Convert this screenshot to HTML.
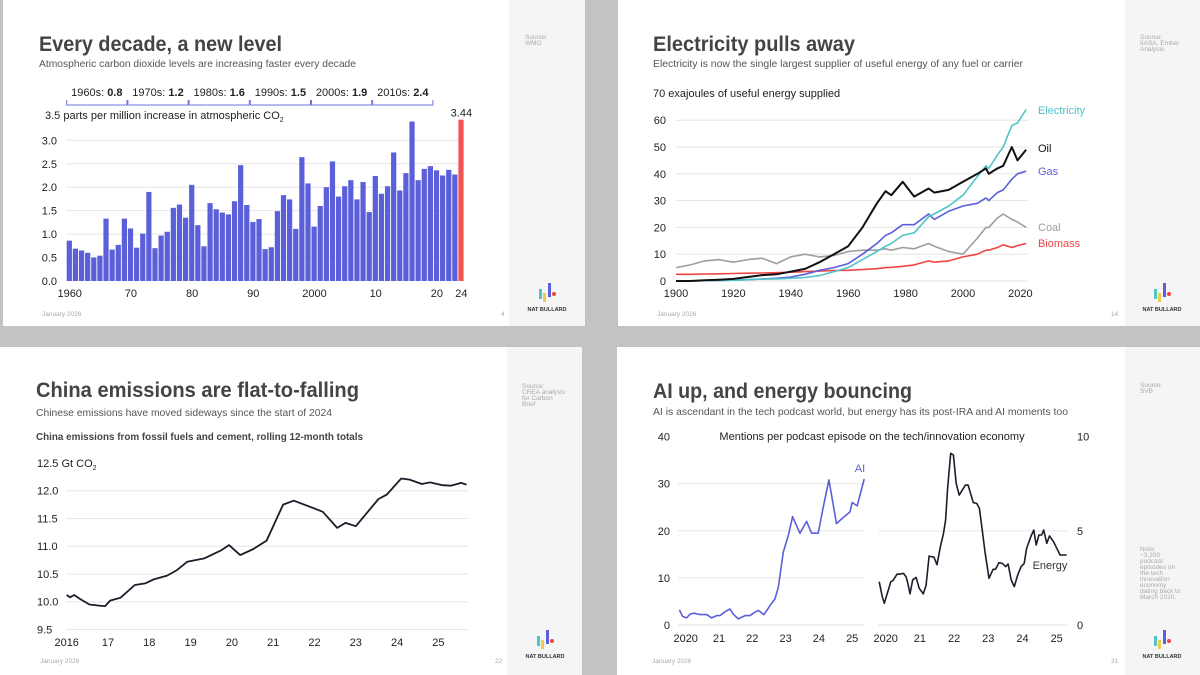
<!DOCTYPE html>
<html><head><meta charset="utf-8"><style>
html,body{margin:0;padding:0;background:#c3c3c3;}
svg{display:block;font-family:"Liberation Sans",sans-serif;}
.t{font-weight:bold;fill:#444;font-size:21px;}
.s{fill:#555;font-size:10.5px;}
.ax{fill:#222;font-size:11px;}
.tiny{fill:#aaa;font-size:6.5px;}
.grid{stroke:#e6e6e6;stroke-width:1;}
</style></head><body>
<svg id="root" width="1200" height="675" viewBox="0 0 1200 675">
<rect x="0" y="0" width="1200" height="675" fill="#c3c3c3"/>
<rect x="3" y="0" width="582" height="326" fill="#fff"/>
<rect x="509" y="0" width="76" height="326" fill="#f5f5f5"/>
<rect x="618" y="0" width="582" height="326" fill="#fff"/>
<rect x="1125" y="0" width="75" height="326" fill="#f5f5f5"/>
<rect x="0" y="347" width="582" height="328" fill="#fff"/>
<rect x="507" y="347" width="75" height="328" fill="#f5f5f5"/>
<rect x="617" y="347" width="583" height="328" fill="#fff"/>
<rect x="1125" y="347" width="75" height="328" fill="#f5f5f5"/>

<text x="39" y="51" class="t" textLength="243" lengthAdjust="spacingAndGlyphs">Every decade, a new level</text>
<text x="39" y="67" class="s" textLength="317" lengthAdjust="spacingAndGlyphs">Atmospheric carbon dioxide levels are increasing faster every decade</text>
<text x="653" y="51" class="t" textLength="202" lengthAdjust="spacingAndGlyphs">Electricity pulls away</text>
<text x="653" y="67" class="s" textLength="370" lengthAdjust="spacingAndGlyphs">Electricity is now the single largest supplier of useful energy of any fuel or carrier</text>
<text x="36" y="397" class="t" textLength="323" lengthAdjust="spacingAndGlyphs">China emissions are flat-to-falling</text>
<text x="36" y="416" class="s" textLength="296" lengthAdjust="spacingAndGlyphs">Chinese emissions have moved sideways since the start of 2024</text>
<text x="36" y="440" style="font-weight:bold;fill:#444;font-size:10.5px" textLength="327" lengthAdjust="spacingAndGlyphs">China emissions from fossil fuels and cement, rolling 12-month totals</text>
<text x="653" y="398" class="t" textLength="259" lengthAdjust="spacingAndGlyphs">AI up, and energy bouncing</text>
<text x="653" y="415" class="s" textLength="415" lengthAdjust="spacingAndGlyphs">AI is ascendant in the tech podcast world, but energy has its post-IRA and AI moments too</text>

<text class="tiny"><tspan x="525" y="39">Source:</tspan><tspan x="525" y="45">WMO</tspan></text>
<text class="tiny"><tspan x="1140" y="39">Source:</tspan><tspan x="1140" y="45">IIASA, Ember</tspan><tspan x="1140" y="51">Analysis</tspan></text>
<text class="tiny"><tspan x="522" y="388">Source:</tspan><tspan x="522" y="394">CREA analysis</tspan><tspan x="522" y="400">for Carbon</tspan><tspan x="522" y="406">Brief</tspan></text>
<text class="tiny"><tspan x="1140" y="387">Source:</tspan><tspan x="1140" y="393">SVB</tspan></text>
<text class="tiny"><tspan x="1140" y="551">Note:</tspan><tspan x="1140" y="557">~3,200</tspan><tspan x="1140" y="563">podcast</tspan><tspan x="1140" y="569">episodes on</tspan><tspan x="1140" y="575">the tech</tspan><tspan x="1140" y="581">innovation</tspan><tspan x="1140" y="587">economy</tspan><tspan x="1140" y="593">dating back to</tspan><tspan x="1140" y="599">March 2020.</tspan></text>

<text x="42" y="316" class="tiny">January 2026</text>
<text x="501" y="316" class="tiny">4</text>
<text x="657" y="316" class="tiny">January 2026</text>
<text x="1111" y="316" class="tiny">14</text>
<text x="40" y="663" class="tiny">January 2026</text>
<text x="495" y="663" class="tiny">22</text>
<text x="652" y="663" class="tiny">January 2026</text>
<text x="1111" y="663" class="tiny">31</text>

<g id="logos"></g>
<g id="c1"></g><g id="c2"></g><g id="c3"></g><g id="c4"></g>
</svg>
<script>
// ===== Chart 1: CO2 annual increase =====
const co2Years = [];
for (let y = 1960; y <= 2024; y++) co2Years.push(y);
const co2Values = [0.86,0.69,0.65,0.60,0.50,0.54,1.33,0.67,0.77,1.33,
1.12,0.71,1.01,1.90,0.70,0.97,1.05,1.56,1.63,1.35,
2.05,1.19,0.74,1.66,1.53,1.46,1.42,1.70,2.47,1.62,
1.26,1.32,0.68,0.72,1.49,1.83,1.74,1.11,2.64,2.08,
1.16,1.60,2.00,2.55,1.80,2.02,2.15,1.74,2.11,1.47,
2.24,1.86,2.02,2.74,1.93,2.30,3.40,2.15,2.39,2.45,
2.36,2.25,2.37,2.27,3.44];
const co2YTicks = [0,0.5,1.0,1.5,2.0,2.5,3.0];
const co2XTickYears = [1960,1970,1980,1990,2000,2010,2020,2024];
const co2XTickLabels = ["1960","70","80","90","2000","10","20","24"];
const decadeLabels = ["1960s: ","1970s: ","1980s: ","1990s: ","2000s: ","2010s: "];
const decadeValues = ["0.8","1.2","1.6","1.5","1.9","2.4"];

// ===== Chart 2: useful energy by carrier =====
const enYears = [1900,1905,1910,1915,1920,1925,1930,1935,1940,1945,1950,1955,1960,1965,1970,1973,1975,1979,1983,1988,1990,1995,2000,2005,2008,2009,2012,2014,2017,2019,2022];
const enElectricity = [0,0,0.1,0.2,0.3,0.5,0.7,0.8,1,1.3,2,3.5,5,8,11,13,14,17,18,24,25,28,32,39,43,42,47,50,58,59,64];
const enOil = [0,0,0.3,0.5,0.8,1.5,2.2,2.5,3.5,4.5,7,10,13,20,29,33.5,32,37,31.5,34.5,33,34,37,40,42,40,42,43,50,45,49];
const enGas = [0,0,0.1,0.2,0.3,0.5,0.7,1,1.5,2.5,4,5,6.5,10,14,17,18,21,21,25,23,26,28,29,31,30,33,34,38,40,41];
const enCoal = [5,6,7.5,8,7,8,8.5,6.5,9,10,9,9.5,11,11.5,11.5,12,11.5,12.5,12,14,13,11,10,16,20,20,23.5,25,23,22,20];
const enBiomass = [2.5,2.5,2.6,2.7,2.8,2.9,3,3.1,3.3,3.5,3.7,3.9,4,4.3,4.6,5,5.1,5.5,6,7.5,7,7.5,9,10,11.5,11.5,12.5,13.5,12.5,13.2,14];
const enYTicks = [0,10,20,30,40,50,60];
const enXTicks = [1900,1920,1940,1960,1980,2000,2020];

// ===== Chart 3: China emissions =====
const cnYears = [2016,2016.08,2016.18,2016.32,2016.55,2016.78,2016.93,2017.05,2017.3,2017.65,2017.9,2018.1,2018.43,2018.67,2018.92,2019.33,2019.73,2019.93,2020.2,2020.52,2020.84,2021.24,2021.5,2022.0,2022.2,2022.55,2022.75,2023.0,2023.55,2023.75,2024.1,2024.3,2024.6,2024.8,2025.1,2025.3,2025.55,2025.68];
const cnValues = [10.12,10.08,10.12,10.05,9.95,9.93,9.92,10.02,10.07,10.30,10.33,10.40,10.47,10.57,10.72,10.78,10.92,11.02,10.84,10.95,11.10,11.75,11.82,11.68,11.62,11.33,11.42,11.36,11.85,11.93,12.22,12.20,12.12,12.15,12.10,12.09,12.14,12.11];
const cnYTicks = [9.5,10.0,10.5,11.0,11.5,12.0];
const cnXTicks = [2016,2017,2018,2019,2020,2021,2022,2023,2024,2025];
const cnXLabels = ["2016","17","18","19","20","21","22","23","24","25"];

// ===== Chart 4: AI and energy mentions =====
const aiYears = [2019.81,2019.91,2020.03,2020.13,2020.25,2020.43,2020.63,2020.78,2020.93,2021.03,2021.18,2021.33,2021.43,2021.58,2021.78,2021.93,2022.03,2022.18,2022.35,2022.55,2022.68,2022.78,2022.93,2023.08,2023.21,2023.43,2023.63,2023.78,2023.98,2024.13,2024.30,2024.53,2024.68,2024.93,2025.0,2025.15,2025.36];
const aiValues = [3.2,1.8,1.5,2.3,2.5,2.2,2.2,1.5,2.0,2.0,2.8,3.4,2.3,1.3,2.0,2.0,2.5,3.1,2.2,4.3,5.5,8,15.5,19,23,19.5,22,19.5,19.5,25,30.8,21.5,22.5,24,26,25.3,31];
const energyYears = [2019.81,2019.90,2019.96,2020.06,2020.15,2020.21,2020.33,2020.40,2020.52,2020.60,2020.65,2020.71,2020.79,2020.89,2020.98,2021.10,2021.18,2021.27,2021.41,2021.50,2021.60,2021.69,2021.75,2021.81,2021.90,2021.98,2022.06,2022.15,2022.21,2022.33,2022.41,2022.48,2022.56,2022.66,2022.74,2022.81,2022.91,2023.02,2023.14,2023.21,2023.31,2023.41,2023.51,2023.58,2023.67,2023.76,2023.86,2023.96,2024.05,2024.12,2024.25,2024.33,2024.40,2024.48,2024.56,2024.62,2024.71,2024.79,2024.91,2024.98,2025.10,2025.18,2025.29];
const energyValues = [2.3,1.5,1.15,1.77,2.3,2.35,2.7,2.7,2.74,2.55,2.2,1.65,2.4,2.53,1.95,1.65,2.12,3.66,3.6,3.2,4.16,4.87,5.57,7.26,9.12,9.03,7.52,6.9,7.08,7.43,7.43,7.0,6.5,6.46,6.19,5.22,3.8,2.48,2.96,2.96,3.31,3.27,3.1,3.24,2.39,2.04,2.65,3.1,3.27,4.07,4.73,5.04,4.25,4.78,4.78,5.04,4.34,4.73,4.42,4.16,3.72,3.72,3.72];
const aiYTicks = [0,10,20,30,40];
const energyYTicks = [0,5,10];
const podXTicks = [2020,2021,2022,2023,2024,2025];
const podXLabels = ["2020","21","22","23","24","25"];

const NS = "http://www.w3.org/2000/svg";
function mk(parent, tag, attrs, txt) {
  const e = document.createElementNS(NS, tag);
  for (const k in attrs) e.setAttribute(k, attrs[k]);
  if (txt !== undefined) e.textContent = txt;
  parent.appendChild(e);
  return e;
}
function pathFrom(xs, ys, fx, fy) {
  return xs.map((x, i) => (i ? "L" : "M") + fx(x).toFixed(1) + "," + fy(ys[i]).toFixed(1)).join("");
}

const logos = document.getElementById("logos");
[[547,311],[1162,311],[545,658],[1162,658]].forEach(function(p){
  const g = mk(logos, "g", {});
  
  
  const cx = p[0], by = p[1];
  mk(g, "rect", {x: cx-8, y: by-22, width: 3, height: 10, fill: "#4fc4c9"});
  mk(g, "rect", {x: cx-4, y: by-18, width: 3, height: 9, fill: "#f2c94c"});
  mk(g, "rect", {x: cx+1, y: by-28, width: 3, height: 14, fill: "#5b5fd9"});
  mk(g, "circle", {cx: cx+7, cy: by-17, r: 2, fill: "#ee4444"});
  const t = mk(g, "text", {x: cx, y: by, "text-anchor": "middle", "font-size": "5.5", "font-weight": "bold", fill: "#333"}, "NAT BULLARD");
  
  
});

(function(){
  const g = document.getElementById("c1");
  
  
  const x0 = 66.7, pitch = 6.12;
  const xi = i => x0 + i * pitch;
  const y = v => 281 - v * 46.9;
  co2YTicks.forEach(function(t){
    if (t > 0) {
      const l = mk(g, "line", {x1: 66, x2: 465, y1: y(t), y2: y(t), class: "grid"});
      
      
    }
    const tx = mk(g, "text", {x: 57, y: y(t) + 4, "text-anchor": "end", class: "ax"}, t.toFixed(1));
    
    
  });
  const yt = mk(g, "text", {x: 45, y: 119, class: "ax"});
  
  
  yt.innerHTML = '3.5 parts per million increase in atmospheric CO<tspan font-size="7" dy="3">2</tspan>';
  co2Values.forEach(function(v, i){
    const last = i === co2Values.length - 1;
    const r = mk(g, "rect", {x: xi(i), y: y(v), width: pitch - 0.9, height: y(0) - y(v), fill: last ? "#f25454" : "#5b5fd9"});
    
    
  });
  const lv = mk(g, "text", {x: xi(co2Values.length - 1) + 3, y: y(co2Values[co2Values.length-1]) - 3, "text-anchor": "middle", class: "ax"}, co2Values[co2Values.length-1].toFixed(2));
  
  
  co2XTickYears.forEach(function(yr, k){
    const i = yr - 1960;
    const tx = mk(g, "text", {x: xi(i) + 3, y: 297, "text-anchor": "middle", class: "ax"}, co2XTickLabels[k]);
    
    
  });
  decadeLabels.forEach(function(lab, k){
    const a = xi(k * 10), b = xi(k * 10 + 10) - 1;
    const p = mk(g, "path", {d: "M" + a + ",100V105H" + b + "V100", fill: "none", stroke: "#6f72dd", "stroke-width": 1});
    
    
    const t = mk(g, "text", {x: (a + b) / 2, y: 96, "text-anchor": "middle", class: "ax", "font-size": "10.5"});
    
    
    t.innerHTML = lab + '<tspan font-weight="bold">' + decadeValues[k] + '</tspan>';
  });
})();

(function(){
  const g = document.getElementById("c2");
  
  
  const x = yr => 676 + (yr - 1900) * 2.87;
  const y = v => 281 - v * 2.68;
  enYTicks.forEach(function(t){
    const l = mk(g, "line", {x1: 676, x2: 1028, y1: y(t), y2: y(t), class: "grid"});
    
    
    const tx = mk(g, "text", {x: 666, y: y(t) + 4, "text-anchor": "end", class: "ax"}, String(t));
    
    
  });
  const yt = mk(g, "text", {x: 653, y: 97, class: "ax", "font-size": "10.5"}, "70 exajoules of useful energy supplied");
  
  
  enXTicks.forEach(function(t){
    const tx = mk(g, "text", {x: x(t), y: 297, "text-anchor": "middle", class: "ax"}, String(t));
    
    
  });
  const series = [
    ["coal", enCoal, "#9e9e9e", "Coal", 231],
    ["biomass", enBiomass, "#ee4444", "Biomass", 247],
    ["gas", enGas, "#5b5fd9", "Gas", 175],
    ["electricity", enElectricity, "#4fc4c9", "Electricity", 114],
    ["oil", enOil, "#111111", "Oil", 152]
  ];
  series.forEach(function(s){
    const p = mk(g, "path", {d: pathFrom(enYears, s[1], x, y), fill: "none", stroke: s[2], "stroke-width": s[0] === "oil" ? 2 : 1.6, "stroke-linejoin": "round"});
    
    
    const t = mk(g, "text", {x: 1038, y: s[4], fill: s[2], "font-size": "11"}, s[3]);
    
    
  });
})();

(function(){
  const g = document.getElementById("c3");
  
  
  const x = yr => 66.7 + (yr - 2016) * 41.3;
  const y = v => 490.7 - (v - 12) * 55.5;
  cnYTicks.forEach(function(t){
    const l = mk(g, "line", {x1: 66, x2: 468, y1: y(t), y2: y(t), class: "grid"});
    
    
    const tx = mk(g, "text", {x: 37, y: y(t) + 4, class: "ax"}, t.toFixed(1));
    
    
  });
  const yt = mk(g, "text", {x: 37, y: 467, class: "ax"});
  
  
  yt.innerHTML = '12.5 Gt CO<tspan font-size="7" dy="3">2</tspan>';
  cnXTicks.forEach(function(t, k){
    const tx = mk(g, "text", {x: x(t), y: 646, "text-anchor": "middle", class: "ax"}, cnXLabels[k]);
    
    
  });
  const p = mk(g, "path", {d: pathFrom(cnYears, cnValues, x, y), fill: "none", stroke: "#1c1c2a", "stroke-width": 1.8, "stroke-linejoin": "round"});
  
  
})();

(function(){
  const g = document.getElementById("c4");
  
  
  const xL = yr => 685.7 + (yr - 2020) * 33.3;
  const yL = v => 625 - v * 4.71;
  const xR = yr => 885.7 + (yr - 2020) * 34.2;
  const yR = v => 625 - v * 18.83;
  aiYTicks.forEach(function(t){
    if (t < 40) {
      const l = mk(g, "line", {x1: 678, x2: 865, y1: yL(t), y2: yL(t), class: "grid"});
      
      
    }
    const tx = mk(g, "text", {x: 670, y: yL(t) + 4, "text-anchor": "end", class: "ax"}, String(t));
    
    
  });
  energyYTicks.forEach(function(t){
    if (t < 10) {
      const l = mk(g, "line", {x1: 878, x2: 1067, y1: yR(t), y2: yR(t), class: "grid"});
      
      
    }
    const tx = mk(g, "text", {x: 1077, y: yR(t) + 4, class: "ax"}, String(t));
    
    
  });
  podXTicks.forEach(function(t, k){
    const a = mk(g, "text", {x: xL(t), y: 642, "text-anchor": "middle", class: "ax"}, podXLabels[k]);
    
    
    const b = mk(g, "text", {x: xR(t), y: 642, "text-anchor": "middle", class: "ax"}, podXLabels[k]);
    
    
  });
  const ct = mk(g, "text", {x: 872, y: 440, "text-anchor": "middle", class: "ax", "font-size": "10.5"}, "Mentions per podcast episode on the tech/innovation economy");
  
  
  const pa = mk(g, "path", {d: pathFrom(aiYears, aiValues, xL, yL), fill: "none", stroke: "#5b5fd9", "stroke-width": 1.6, "stroke-linejoin": "round"});
  
  
  const pe = mk(g, "path", {d: pathFrom(energyYears, energyValues, xR, yR), fill: "none", stroke: "#1c1c2a", "stroke-width": 1.6, "stroke-linejoin": "round"});
  
  
  const la = mk(g, "text", {x: 860, y: 472, "text-anchor": "middle", fill: "#5b5fd9", "font-size": "11"}, "AI");
  
  
  const le = mk(g, "text", {x: 1050, y: 569, "text-anchor": "middle", fill: "#333", "font-size": "11"}, "Energy");
  
  
})();
</script>
</body></html>
